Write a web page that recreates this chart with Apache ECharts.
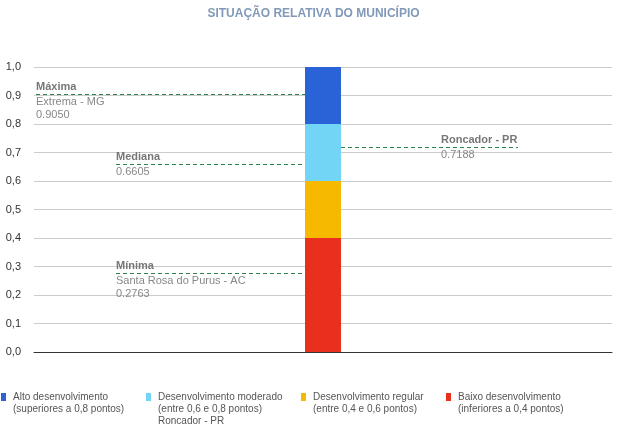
<!DOCTYPE html>
<html>
<head>
<meta charset="utf-8">
<script src="https://cdn.jsdelivr.net/npm/echarts@6/dist/echarts.min.js"></script>
<style>html,body{margin:0;padding:0;background:#fff}#c{width:627px;height:429px}</style>
</head>
<body>
<div id="c"></div>
<script>
// ---- data ----
const categories = [''];
const segmentNames = [
  'Baixo desenvolvimento\n(inferiores a 0,4 pontos)',
  'Desenvolvimento regular\n(entre 0,4 e 0,6 pontos)',
  'Desenvolvimento moderado\n(entre 0,6 e 0,8 pontos)\nRoncador - PR',
  'Alto desenvolvimento\n(superiores a 0,8 pontos)'
];
const segmentValues = [0.4, 0.2, 0.2, 0.2];
const segmentColors = ['#e8301c', '#f7b900', '#72d5f5', '#2a62d8'];
const yTickLabels = ['0,0','0,1','0,2','0,3','0,4','0,5','0,6','0,7','0,8','0,9','1,0'];
const refTitles = ['Máxima', 'Mediana', 'Mínima', 'Roncador - PR'];
const refPlaces = ['Extrema - MG', '', 'Santa Rosa do Purus - AC', ''];
const refValues = [0.9050, 0.6605, 0.2763, 0.7188];

// ---- layout (pixels) ----
const refLineX = [[36, 305], [116, 305], [116, 305], [341, 518]];
const refLabelX = [36, 116, 116, 441];
const legendOrder = [3, 2, 1, 0];
const legendLeft = [1, 146, 301, 446];

const FONT = '"Liberation Sans", Arial, sans-serif';
const GREEN = '#2e8050';

const series = segmentNames.map((name, i) => ({
  name: name,
  type: 'bar',
  stack: 'total',
  barWidth: 36,
  data: [segmentValues[i]],
  itemStyle: { color: segmentColors[i] },
  silent: true
}));

series.push({
  name: 'referencias',
  type: 'custom',
  silent: true,
  z: 5,
  data: refValues.map(v => [0, v]),
  encode: { x: 0, y: 1 },
  renderItem: function (params, api) {
    const i = params.dataIndex;
    const v = api.value(1);
    const y = Math.round(api.coord([0, v])[1]) + 0.5;
    const [x0, x1] = refLineX[i];
    const lx = refLabelX[i];
    const bottom = (refPlaces[i] ? refPlaces[i] + '\n' : '') + v.toFixed(4);
    return {
      type: 'group',
      children: [
        { type: 'line', shape: { x1: x0, y1: y, x2: x1, y2: y },
          style: { stroke: GREEN, lineWidth: 1, lineDash: [4, 3] } },
        { type: 'text', x: lx, y: y - 1,
          style: { text: refTitles[i], fill: '#777', fontSize: 11, fontWeight: 'bold', fontFamily: FONT,
                   lineHeight: 13, align: 'left', verticalAlign: 'bottom' } },
        { type: 'text', x: lx, y: y + 1,
          style: { text: bottom, fill: '#888', fontSize: 11, fontFamily: FONT,
                   lineHeight: 13, align: 'left', verticalAlign: 'top' } }
      ]
    };
  }
});

const legends = legendOrder.map((si, k) => {
  const lines = segmentNames[si].split('\n').length;
  const n = 2 * lines - 1;
  return {
    data: [segmentNames[si]],
    formatter: nm => '\n'.repeat(lines - 1) + nm,
    left: legendLeft[k],
    top: 397 - n * 6,
    padding: 0,
    itemWidth: 5,
    itemHeight: 8,
    icon: 'rect',
    selectedMode: false,
    textStyle: { color: '#555', fontSize: 10, lineHeight: 12, fontFamily: FONT, padding: [0, 0, 0, 2] }
  };
});

const chart = echarts.init(document.getElementById('c'), null, { renderer: 'canvas' });
chart.setOption({
  animation: false,
  backgroundColor: '#fff',
  title: {
    text: 'SITUAÇÃO RELATIVA DO MUNICÍPIO',
    left: 'center', top: 8, padding: 0,
    textStyle: { fontFamily: FONT, fontSize: 12, fontWeight: 'bold', color: '#8099b8' }
  },
  legend: legends,
  grid: { left: 34, right: 15, top: 67, bottom: 77, containLabel: false },
  xAxis: {
    type: 'category', data: categories,
    axisLine: { show: true, lineStyle: { color: '#333', width: 1 } },
    axisTick: { show: false }, axisLabel: { show: false }, splitLine: { show: false }
  },
  yAxis: {
    type: 'value', min: 0, max: 1, interval: 0.1,
    axisLine: { show: false }, axisTick: { show: false },
    axisLabel: { margin: 13, color: '#333', fontSize: 11, fontFamily: FONT,
      formatter: v => yTickLabels[Math.round(v * 10)] },
    splitLine: { lineStyle: { color: '#ccc', width: 1 } }
  },
  series: series
});
</script>
</body>
</html>
